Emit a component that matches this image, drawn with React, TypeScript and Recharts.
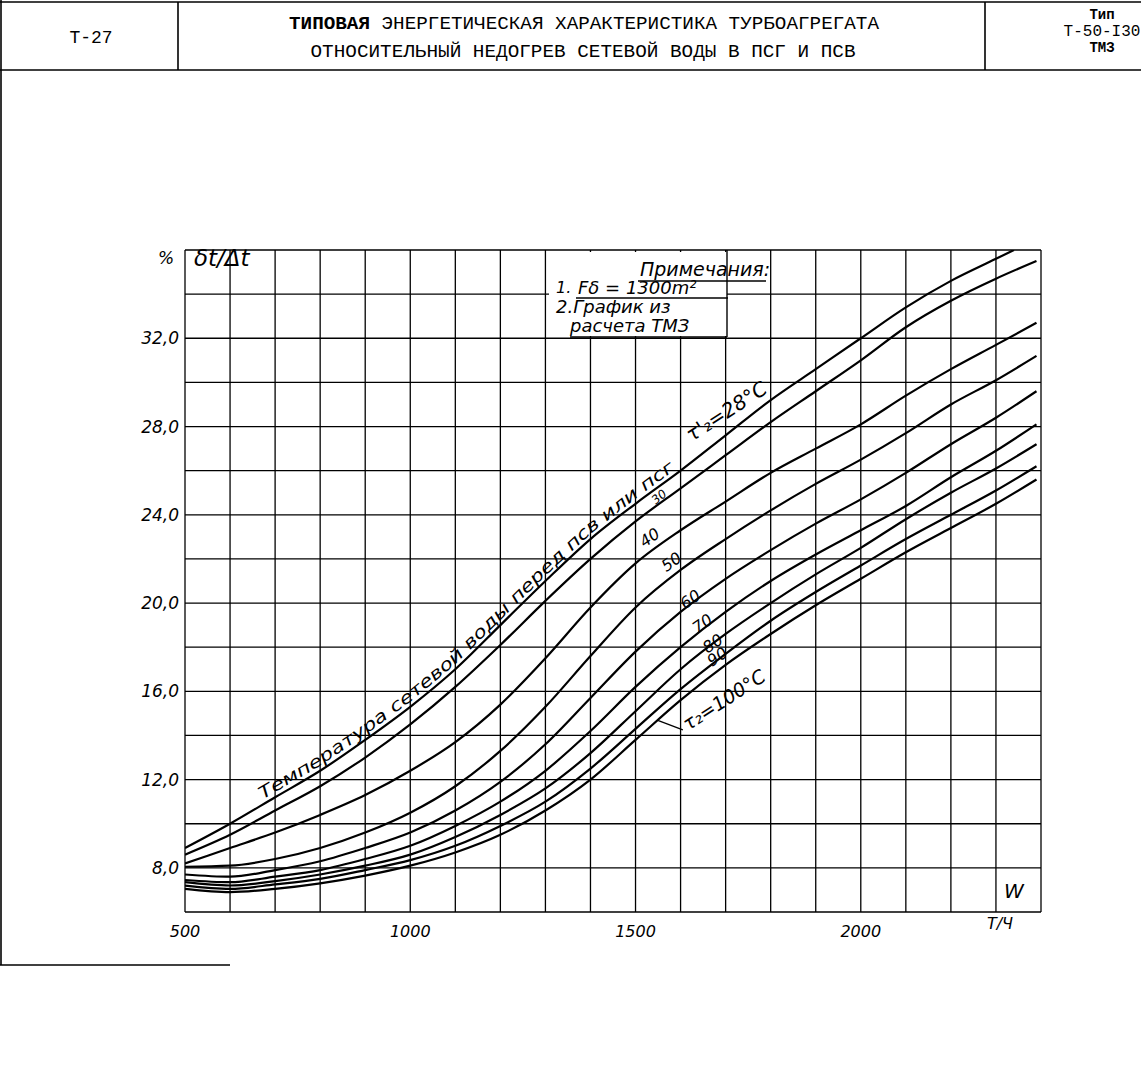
import React from "react";
import { LineChart, Line, XAxis, YAxis, CartesianGrid } from "recharts";

// расход сетевой воды W, т/ч
const loads = [500, 600, 700, 800, 900, 1000, 1100, 1200, 1300, 1400, 1500, 1600, 1700, 1800, 1900, 2000, 2100, 2200, 2300, 2390];
const loads28 = [500, 600, 700, 800, 900, 1000, 1100, 1200, 1300, 1400, 1500, 1600, 1700, 1800, 1900, 2000, 2100, 2200, 2300, 2340];

// δt/Δt, % for each inlet temperature τ'2
const t28 = [8.9, 10.0, 11.2, 12.4, 13.8, 15.3, 17.0, 19.0, 21.0, 22.9, 24.5, 26.0, 27.6, 29.2, 30.6, 32.0, 33.4, 34.6, 35.6, 36.0];
const t30 = [8.6, 9.5, 10.6, 11.7, 13.0, 14.5, 16.2, 18.1, 20.1, 22.0, 23.7, 25.2, 26.7, 28.2, 29.6, 31.0, 32.5, 33.7, 34.7, 35.5];
const t40 = [8.2, 8.9, 9.6, 10.4, 11.3, 12.4, 13.7, 15.4, 17.5, 19.8, 21.8, 23.3, 24.6, 25.9, 27.0, 28.1, 29.4, 30.6, 31.7, 32.7];
const t50 = [8.05, 8.1, 8.4, 8.9, 9.6, 10.5, 11.7, 13.3, 15.3, 17.6, 19.8, 21.5, 22.9, 24.2, 25.4, 26.5, 27.7, 29.0, 30.1, 31.2];
const t60 = [7.7, 7.6, 7.9, 8.3, 8.9, 9.6, 10.6, 11.9, 13.6, 15.7, 17.8, 19.6, 21.1, 22.4, 23.6, 24.7, 25.9, 27.2, 28.4, 29.6];
const t70 = [7.45, 7.35, 7.6, 7.9, 8.4, 9.0, 9.9, 11.0, 12.4, 14.2, 16.2, 18.0, 19.6, 21.0, 22.2, 23.3, 24.4, 25.7, 26.9, 28.1];
const t80 = [7.35, 7.2, 7.4, 7.7, 8.1, 8.6, 9.4, 10.4, 11.6, 13.2, 15.1, 17.0, 18.6, 20.0, 21.3, 22.5, 23.8, 25.0, 26.1, 27.2];
const t90 = [7.2, 7.05, 7.25, 7.5, 7.9, 8.35, 9.0, 9.9, 11.0, 12.5, 14.3, 16.1, 17.7, 19.2, 20.5, 21.7, 22.9, 24.0, 25.1, 26.2];
const t100 = [7.05, 6.9, 7.05, 7.3, 7.65, 8.1, 8.7, 9.5, 10.6, 12.0, 13.8, 15.6, 17.2, 18.6, 19.9, 21.1, 22.3, 23.4, 24.5, 25.6];

const gridX = [500, 600, 700, 800, 900, 1000, 1100, 1200, 1300, 1400, 1500, 1600, 1700, 1800, 1900, 2000, 2100, 2200, 2300, 2400];
const gridY = [6, 8, 10, 12, 14, 16, 18, 20, 22, 24, 26, 28, 30, 32, 34, 36];
const xLabels = [500, 1000, 1500, 2000];
const yLabels = [8, 12, 16, 20, 24, 28, 32];

const series = [
  { name: "28", x: loads28, y: t28 },
  { name: "30", x: loads, y: t30 },
  { name: "40", x: loads, y: t40 },
  { name: "50", x: loads, y: t50 },
  { name: "60", x: loads, y: t60 },
  { name: "70", x: loads, y: t70 },
  { name: "80", x: loads, y: t80 },
  { name: "90", x: loads, y: t90 },
  { name: "100", x: loads, y: t100 },
];

const W = 1141;
const H = 1073;
const plot = { left: 185, right: 1041, top: 250, bottom: 912 };
const X = (w: number) => plot.left + ((w - 500) / 1900) * (plot.right - plot.left);
const Y = (v: number) => plot.bottom - ((v - 6) / 30) * (plot.bottom - plot.top);

const hand = "'DejaVu Sans', sans-serif";
const mono = "'Liberation Mono', 'DejaVu Sans Mono', monospace";

function XTick(props: any) {
  const { x, y, payload } = props;
  if (!xLabels.includes(payload.value)) return null;
  return (
    <text x={x} y={y + 17} textAnchor="middle" fontFamily={hand} fontStyle="italic" fontSize={16} fill="#000">
      {payload.value}
    </text>
  );
}

function YTick(props: any) {
  const { x, y, payload } = props;
  if (!yLabels.includes(payload.value)) return null;
  return (
    <text x={x + 2} y={y + 6} textAnchor="end" fontFamily={hand} fontStyle="italic" fontSize={17} fill="#000">
      {payload.value.toFixed(1).replace(".", ",")}
    </text>
  );
}

function curvePath(xs: number[], ys: number[], from: number, to: number, lift: number) {
  const pts: string[] = [];
  xs.forEach((w, i) => {
    if (w >= from && w <= to) pts.push(`${X(w).toFixed(1)},${(Y(ys[i]) - lift).toFixed(1)}`);
  });
  return "M" + pts.join(" L");
}

function Annotations() {
  const lbl = (w: number, v: number, text: string, rot: number, size = 16) => (
    <text
      x={X(w)}
      y={Y(v)}
      transform={`rotate(${rot} ${X(w)} ${Y(v)})`}
      fontFamily={hand}
      fontStyle="italic"
      fontSize={size}
      fill="#000"
    >
      {text}
    </text>
  );
  return (
    <svg width={W} height={H} style={{ position: "absolute", left: 0, top: 0, pointerEvents: "none" }}>
      {/* рамка штампа */}
      <g stroke="#000" strokeWidth={1.6} fill="none">
        <line x1={0} y1={2} x2={W} y2={2} />
        <line x1={0} y1={70} x2={W} y2={70} />
        <line x1={178} y1={2} x2={178} y2={70} />
        <line x1={985} y1={2} x2={985} y2={70} />
        <line x1={1} y1={0} x2={1} y2={965} />
        <line x1={0} y1={965} x2={230} y2={965} />
      </g>
      <g fontFamily={mono} fill="#000">
        <text x={91} y={43} fontSize={18} textAnchor="middle">Т-27</text>
        <text x={584} y={29} fontSize={18} textAnchor="middle" textLength={590} lengthAdjust="spacingAndGlyphs">
          <tspan fontWeight="bold">ТИПОВАЯ</tspan> ЭНЕРГЕТИЧЕСКАЯ ХАРАКТЕРИСТИКА ТУРБОАГРЕГАТА
        </text>
        <text x={583} y={57} fontSize={18} textAnchor="middle" textLength={545} lengthAdjust="spacingAndGlyphs">
          ОТНОСИТЕЛЬНЫЙ НЕДОГРЕВ СЕТЕВОЙ ВОДЫ В ПСГ И ПСВ
        </text>
        <text x={1102} y={19} fontSize={14} fontWeight="bold" textAnchor="middle">Тип</text>
        <text x={1102} y={36} fontSize={16} textAnchor="middle">Т-50-I30</text>
        <text x={1102} y={52} fontSize={14} fontWeight="bold" textAnchor="middle">ТМЗ</text>
      </g>

      {/* примечания */}
      <rect x={549} y={252} width={178} height={84} fill="#fff" />
      <g stroke="#000" strokeWidth={1.4}>
        <line x1={727} y1={250} x2={727} y2={337} />
        <line x1={638} y1={281} x2={766} y2={281} />
        <line x1={576} y1={298} x2={728} y2={298} />
        <line x1={570} y1={337} x2={727} y2={337} />
      </g>
      <g fontFamily={hand} fontStyle="italic" fill="#000">
        <text x={640} y={276} fontSize={19}>Примечания:</text>
        <text x={556} y={293} fontSize={16}>1.</text>
        <text x={578} y={294} fontSize={18}>Fδ = 1300m²</text>
        <text x={556} y={313} fontSize={18}>2.График из</text>
        <text x={570} y={332} fontSize={18}>расчета ТМЗ</text>
      </g>

      {/* подписи осей */}
      <g fontFamily={hand} fontStyle="italic" fill="#000">
        <text x={158} y={264} fontSize={17}>%</text>
        <text x={194} y={266} fontSize={23}>δt/Δt</text>
        <text x={1004} y={898} fontSize={20}>W</text>
        <text x={1000} y={929} fontSize={16} textAnchor="middle">Т/Ч</text>
      </g>

      {/* подписи кривых */}
      <path id="labA" d={curvePath(loads28, t28, 600, 1700, 5)} fill="none" />
      <text fontFamily={hand} fontStyle="italic" fontSize={17} fill="#000">
        <textPath href="#labA" startOffset={38} textLength={530} lengthAdjust="spacingAndGlyphs">
          Температура сетевой воды перед псв или псг
        </textPath>
      </text>
      {lbl(1625, 27.3, "τ'₂=28°C", -33, 20)}
      {lbl(1545, 24.45, "30", -40, 12)}
      {lbl(1520, 22.5, "40", -35)}
      {lbl(1568, 21.4, "50", -35)}
      {lbl(1610, 19.7, "60", -35)}
      {lbl(1637, 18.6, "70", -35)}
      {lbl(1660, 17.7, "80", -35)}
      {lbl(1670, 17.1, "90", -35)}
      {lbl(1617, 14.2, "τ₂=100°C", -33, 19)}
      <line x1={X(1548)} y1={Y(14.7)} x2={X(1605)} y2={Y(14.25)} stroke="#000" strokeWidth={1.3} />
    </svg>
  );
}

export default function App() {
  return (
    <div style={{ position: "absolute", left: 0, top: 0, width: W, height: H, background: "#fff" }}>
      <LineChart width={W} height={H} margin={{ top: 250, right: 100, bottom: 0, left: 0 }}>
        <CartesianGrid stroke="#000" strokeWidth={1.3} />
        <XAxis
          dataKey="w"
          type="number"
          domain={[500, 2400]}
          ticks={gridX}
          interval={0}
          height={161}
          axisLine={false}
          tickLine={false}
          tick={<XTick />}
          allowDataOverflow
        />
        <YAxis
          type="number"
          domain={[6, 36]}
          ticks={gridY}
          interval={0}
          width={185}
          axisLine={false}
          tickLine={false}
          tick={<YTick />}
          allowDataOverflow
        />
        {series.map((s) => (
          <Line
            key={s.name}
            data={s.x.map((w, i) => ({ w, v: s.y[i] }))}
            dataKey="v"
            type="monotone"
            stroke="#000"
            strokeWidth={2.2}
            dot={false}
            isAnimationActive={false}
          />
        ))}
      </LineChart>
      <Annotations />
    </div>
  );
}
